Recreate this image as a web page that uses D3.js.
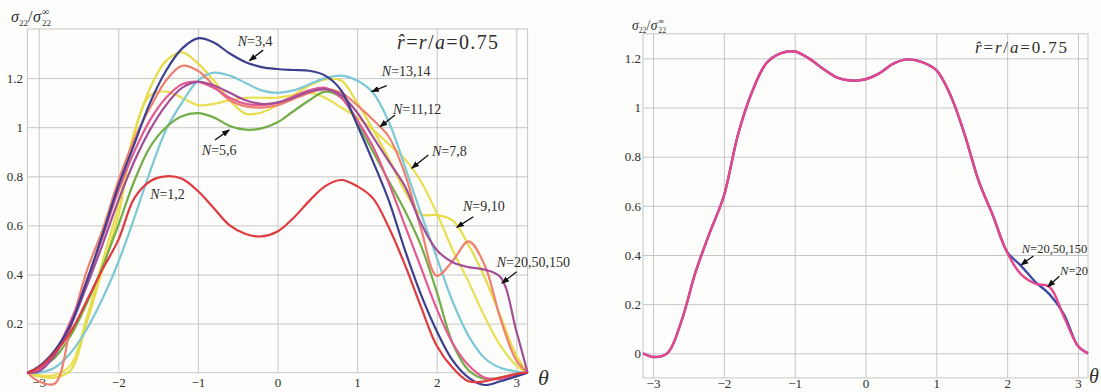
<!DOCTYPE html>
<html>
<head>
<meta charset="utf-8">
<script src="https://cdn.jsdelivr.net/npm/d3@7"></script>
<style>
  body { margin: 0; background: #fdfdfb; }
  svg { display: block; }
  text { font-family: "Liberation Serif", "Times New Roman", "DejaVu Serif", serif; fill: #2e2e2e; }
</style>
</head>
<body>
<svg id="chart" width="1101" height="392"></svg>
<script>
const PI = Math.PI;

// shared angle grid (theta, radians)
const theta = [-PI, -3.0, -2.8, -2.6, -2.4, -2.2, -2.0, -1.8, -1.6, -1.4, -1.2, -1.0, -0.8, -0.6, -0.4, -0.2,
  0, 0.2, 0.4, 0.6, 0.8, 1.0, 1.2, 1.4, 1.6, 1.8, 2.0, 2.2, 2.4, 2.6, 2.8, 3.0, PI];

// left panel: sigma22 / sigma22_inf for several truncation orders N
const n12 = [0, 0.02, 0.08, 0.165, 0.29, 0.42, 0.54, 0.71, 0.78, 0.80, 0.79, 0.74, 0.67, 0.60, 0.565, 0.555,
  0.575, 0.63, 0.70, 0.76, 0.785, 0.76, 0.71, 0.59, 0.44, 0.27, 0.11, 0.02, -0.035, -0.035, -0.02, -0.005, 0];
const n34 = [0, 0.025, 0.09, 0.195, 0.37, 0.56, 0.76, 0.93, 1.10, 1.23, 1.32, 1.362, 1.345, 1.30, 1.265, 1.245,
  1.237, 1.233, 1.23, 1.21, 1.15, 1.01, 0.86, 0.70, 0.50, 0.32, 0.17, 0.05, -0.02, -0.05, -0.035, -0.015, 0];
const n56 = [0, 0.02, 0.06, 0.15, 0.28, 0.43, 0.60, 0.78, 0.92, 1.00, 1.045, 1.057, 1.04, 1.005, 0.99, 0.995,
  1.02, 1.065, 1.11, 1.145, 1.12, 1.02, 0.90, 0.78, 0.66, 0.52, 0.33, 0.12, 0.01, -0.025, -0.02, -0.005, 0];
const n78 = [0, -0.01, -0.01, 0.03, 0.22, 0.45, 0.68, 0.98, 1.13, 1.145, 1.12, 1.09, 1.095, 1.11, 1.12, 1.12,
  1.12, 1.13, 1.14, 1.12, 1.08, 1.04, 0.99, 0.93, 0.87, 0.78, 0.65, 0.50, 0.37, 0.23, 0.11, 0.03, 0];
const n910 = [0, -0.015, -0.02, 0.01, 0.20, 0.42, 0.64, 0.97, 1.16, 1.27, 1.305, 1.26, 1.19, 1.11, 1.055, 1.06,
  1.09, 1.13, 1.17, 1.195, 1.19, 1.10, 0.99, 0.87, 0.74, 0.645, 0.642, 0.62, 0.52, 0.39, 0.23, 0.07, 0];
const n1112 = [0, -0.035, -0.045, 0.18, 0.41, 0.58, 0.78, 0.95, 1.08, 1.19, 1.25, 1.23, 1.17, 1.11, 1.085, 1.08,
  1.09, 1.115, 1.14, 1.155, 1.14, 1.09, 1.03, 0.96, 0.81, 0.59, 0.395, 0.455, 0.535, 0.44, 0.22, 0.05, 0];
const n1314 = [0, 0.0, 0.02, 0.08, 0.175, 0.30, 0.45, 0.63, 0.82, 0.99, 1.10, 1.19, 1.222, 1.21, 1.18, 1.15,
  1.14, 1.15, 1.175, 1.20, 1.21, 1.19, 1.14, 1.02, 0.84, 0.65, 0.47, 0.29, 0.15, 0.06, 0.02, 0.005, 0];
const n1516 = [0, 0.01, 0.08, 0.21, 0.37, 0.55, 0.74, 0.90, 1.03, 1.12, 1.175, 1.185, 1.16, 1.12, 1.095, 1.09,
  1.10, 1.125, 1.15, 1.16, 1.12, 1.03, 0.92, 0.77, 0.60, 0.43, 0.26, 0.12, 0.03, -0.02, -0.025, -0.01, 0];
const n20up = [0, 0.005, 0.07, 0.19, 0.35, 0.52, 0.70, 0.86, 0.99, 1.09, 1.16, 1.185, 1.17, 1.14, 1.11, 1.095,
  1.10, 1.12, 1.145, 1.155, 1.13, 1.06, 0.96, 0.86, 0.76, 0.61, 0.50, 0.45, 0.43, 0.42, 0.39, 0.17, 0];

// right panel: converged solutions
const conv = [0, -0.015, 0.0, 0.13, 0.33, 0.49, 0.64, 0.89, 1.065, 1.18, 1.22, 1.228, 1.20, 1.158, 1.122, 1.11,
  1.115, 1.14, 1.18, 1.196, 1.185, 1.152, 1.05, 0.89, 0.70, 0.56, 0.413, 0.355, 0.29, 0.24, 0.16, 0.03, 0];
const n20 = [0, -0.015, 0.0, 0.13, 0.33, 0.49, 0.64, 0.89, 1.065, 1.18, 1.22, 1.228, 1.20, 1.158, 1.122, 1.11,
  1.115, 1.14, 1.18, 1.196, 1.185, 1.152, 1.05, 0.89, 0.70, 0.56, 0.41, 0.32, 0.283, 0.27, 0.15, 0.03, 0];

const xTicks = [-3, -2, -1, 0, 1, 2, 3];
const yTicksL = [0.2, 0.4, 0.6, 0.8, 1, 1.2];
const yTicksR = [0, 0.2, 0.4, 0.6, 0.8, 1, 1.2];

const seriesL = [
  { vals: n78, color: '#e9df52' },
  { vals: n910, color: '#e6dc48' },
  { vals: n1314, color: '#7cc8d6' },
  { vals: n56, color: '#72ad47' },
  { vals: n1112, color: '#ef806f' },
  { vals: n1516, color: '#e35a92' },
  { vals: n20up, color: '#a24f98' },
  { vals: n34, color: '#3d3f8f' },
  { vals: n12, color: '#e03a40' }
];
const seriesR = [
  { vals: conv, color: '#3f4ca3' },
  { vals: n20, color: '#e6478c' }
];

const annotL = [
  { n: '3,4', t: [-0.50, 1.33], from: [-0.18, 1.314], to: [-0.354, 1.271] },
  { n: '5,6', t: [-0.95, 0.887], from: [-0.785, 0.948], to: [-0.606, 0.989] },
  { n: '1,2', t: [-1.60, 0.708] },
  { n: '13,14', t: [1.31, 1.209], from: [1.372, 1.169], to: [1.183, 1.145] },
  { n: '11,12', t: [1.45, 1.054], from: [1.476, 1.05], to: [1.288, 1.002] },
  { n: '7,8', t: [1.94, 0.883], from: [1.894, 0.887], to: [1.686, 0.833] },
  { n: '9,10', t: [2.33, 0.659], from: [2.46, 0.635], to: [2.251, 0.592] },
  { n: '20,50,150', t: [2.754, 0.43], from: [3.005, 0.411], to: [2.817, 0.364] }
];
const annotR = [
  { n: '20,50,150', t: [2.206, 0.408], from: [2.37, 0.396], to: [2.196, 0.359] },
  { n: '20', t: [2.747, 0.319], from: [2.737, 0.314], to: [2.573, 0.271] }
];

const svg = d3.select('#chart');
const gridColor = '#c6c6c6';
const serif = '"Liberation Serif", "Times New Roman", serif';

svg.append('defs').append('marker')
  .attr('id', 'arr')
  .attr('viewBox', '0 0 10 10')
  .attr('refX', 9).attr('refY', 5)
  .attr('markerUnits', 'userSpaceOnUse')
  .attr('markerWidth', 8).attr('markerHeight', 8)
  .attr('orient', 'auto')
  .append('path').attr('d', 'M0,1.2 L10,5 L0,8.8 z').attr('fill', '#111');

const fmtX = d3.format('d');
const fmtY = d => d === 0 ? '0' : d === 1 ? '1' : d3.format('.1f')(d);

function drawPanel(cfg) {
  const g = svg.append('g');
  const x = d3.scaleLinear().domain([-PI, PI]).range(cfg.xRange);
  const y = d3.scaleLinear().domain(cfg.yDomain).range(cfg.yRange);
  const yBot = y(cfg.yDomain[0]);
  const yTop = y(cfg.yDomain[1]);

  // vertical grid + x labels
  const gx = g.append('g')
    .attr('transform', 'translate(0,' + yBot + ')')
    .call(d3.axisBottom(x).tickValues(xTicks).tickFormat(fmtX)
      .tickSize(-(yBot - yTop)).tickPadding(cfg.xPad));
  // horizontal grid + y labels
  const gy = g.append('g')
    .attr('transform', 'translate(' + x(-PI) + ',0)')
    .call(d3.axisLeft(y).tickValues(cfg.yTicks).tickFormat(fmtY)
      .tickSize(-(x(PI) - x(-PI))).tickPadding(cfg.yPad));

  [gx, gy].forEach(a => {
    a.attr('font-family', serif).attr('font-size', 13);
    a.select('.domain').remove();
    a.selectAll('line').attr('stroke', gridColor).attr('stroke-width', 1);
    a.selectAll('text').attr('fill', '#3a3a3a');
  });

  // frame
  g.append('rect')
    .attr('x', x(-PI)).attr('y', yTop)
    .attr('width', x(PI) - x(-PI)).attr('height', yBot - yTop)
    .attr('fill', 'none').attr('stroke', gridColor).attr('stroke-width', 1);

  const line = d3.line()
    .x((d, i) => x(theta[i]))
    .y(d => y(d))
    .curve(d3.curveCatmullRom.alpha(0.5));

  g.selectAll('path.curve')
    .data(cfg.series)
    .enter().append('path')
    .attr('class', 'curve')
    .attr('d', d => line(d.vals))
    .attr('fill', 'none')
    .attr('stroke', d => d.color)
    .attr('stroke-width', cfg.lineWidth)
    .attr('stroke-linejoin', 'round');

  cfg.annot.forEach(a => {
    const t = g.append('text')
      .attr('x', x(a.t[0])).attr('y', y(a.t[1]))
      .style('font-size', cfg.annotSize + 'px');
    t.append('tspan').style('font-style', 'italic').text('N');
    t.append('tspan').text('=' + a.n);
    if (a.from) {
      g.append('line')
        .attr('x1', x(a.from[0])).attr('y1', y(a.from[1]))
        .attr('x2', x(a.to[0])).attr('y2', y(a.to[1]))
        .attr('stroke', '#111').attr('stroke-width', 1.3)
        .attr('marker-end', 'url(#arr)');
    }
  });

  return { x, y };
}

function sigmaLabel(x0, y0, k) {
  const g = svg.append('g').attr('transform', 'translate(' + x0 + ',' + y0 + ')');
  const big = 16 * k, small = 9 * k;
  g.append('text').attr('x', 0).attr('y', 0).style('font-style', 'italic').style('font-size', big + 'px').text('σ');
  g.append('text').attr('x', 8 * k).attr('y', 4 * k).style('font-size', small + 'px').text('22');
  g.append('text').attr('x', 17 * k).attr('y', 0).style('font-size', big + 'px').text('/');
  g.append('text').attr('x', 22 * k).attr('y', 0).style('font-style', 'italic').style('font-size', big + 'px').text('σ');
  g.append('text').attr('x', 31 * k).attr('y', 4 * k).style('font-size', small + 'px').text('22');
  g.append('text').attr('x', 31 * k).attr('y', -7 * k).style('font-size', (10 * k) + 'px').text('∞');
}

function radiusLabel(x0, y0, size, len) {
  const t = svg.append('text').attr('x', x0).attr('y', y0)
    .style('font-size', size + 'px')
    .attr('textLength', len).attr('lengthAdjust', 'spacing');
  t.append('tspan').style('font-style', 'italic').text('r\u0302');
  t.append('tspan').text('=');
  t.append('tspan').style('font-style', 'italic').text('r');
  t.append('tspan').text('/');
  t.append('tspan').style('font-style', 'italic').text('a');
  t.append('tspan').text('=0.75');
}

drawPanel({
  xRange: [27.4, 527.6], yDomain: [0, 1.4], yRange: [372.7, 29],
  yTicks: yTicksL, xPad: 5.5, yPad: 4.5,
  series: seriesL, lineWidth: 2.2, annot: annotL, annotSize: 14
});
drawPanel({
  xRange: [643, 1088], yDomain: [-0.1, 1.3], yRange: [377.9, 33.8],
  yTicks: yTicksR, xPad: 1, yPad: 2,
  series: seriesR, lineWidth: 2.4, annot: annotR, annotSize: 12.5
});

sigmaLabel(11, 22, 1);
sigmaLabel(632, 30, 0.85);
radiusLabel(397, 49, 20, 101);
radiusLabel(975, 53, 17, 92);

svg.append('text').attr('x', 538).attr('y', 385).style('font-style', 'italic').style('font-size', '22px').text('θ');
svg.append('text').attr('x', 1089).attr('y', 383).style('font-style', 'italic').style('font-size', '20px').text('θ');
</script>
</body>
</html>
